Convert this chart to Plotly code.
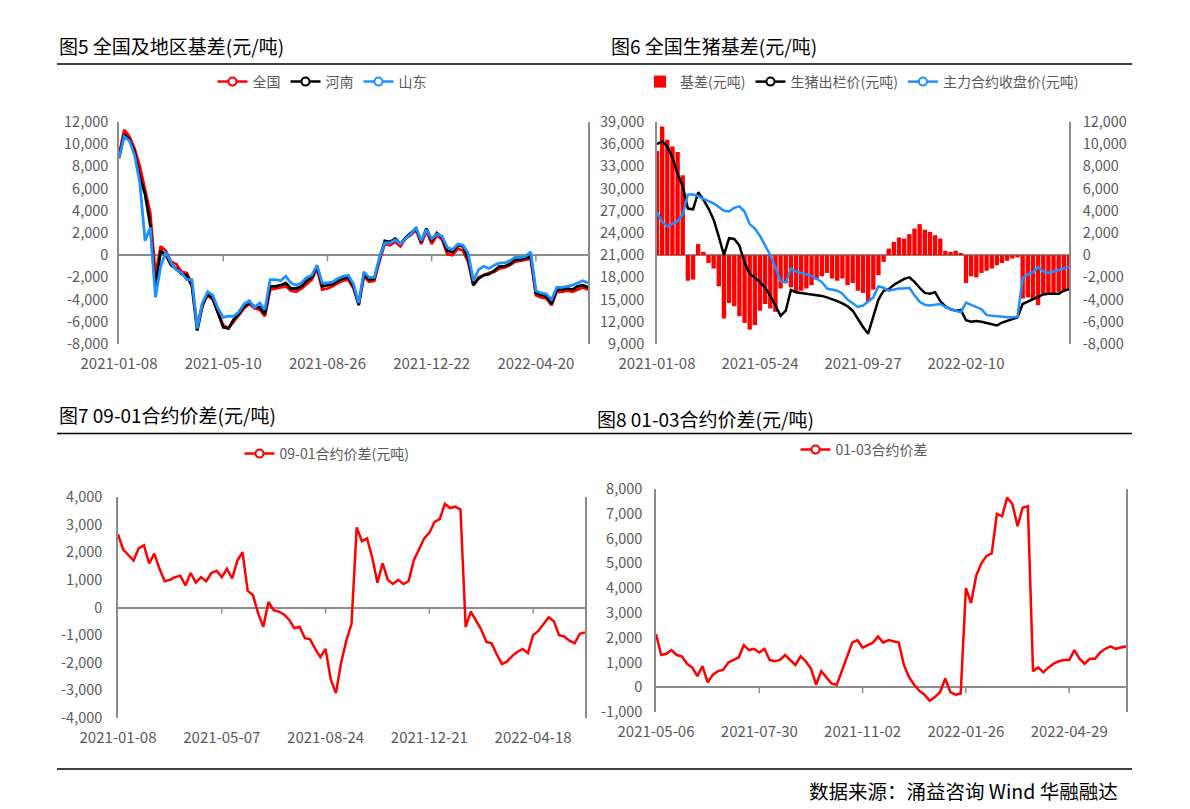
import plotly.graph_objects as go

# ---- data ----
# fig5: national / regional basis, trading-day index, labels every 20 points
p5_labels = ["2021-01-08", "2021-05-10", "2021-08-26", "2021-12-22", "2022-04-20"]
p5_national = [9000, 11300, 10700, 9600, 8000, 6000, 3800, -1800, 800, 400,
               -600, -800, -1500, -1600, -2600, -6400, -4400, -3600, -4000, -5200,
               -6300, -6600, -6000, -5400, -4800, -4400, -4800, -4900, -5500, -3100,
               -3000, -2900, -2800, -3200, -3300, -3000, -2600, -2200, -1200, -3100,
               -3000, -2800, -2500, -2300, -2200, -3000, -4400, -1900, -2400, -2300,
               -500, 1000, 900, 1200, 800, 1500, 1800, 2300, 1000, 2200,
               1000, 1800, 1400, 100, 0, 600, 400, -600, -2700, -2000,
               -1800, -1600, -1500, -1200, -1100, -900, -600, -500, -400, -300,
               -3600, -3800, -3900, -4500, -3300, -3300, -3200, -3300, -3100, -2900,
               -3100]
p5_henan = [8800, 10900, 10400, 9300, 7000, 5500, 2700, -3000, 400, 0,
            -900, -1200, -1700, -1800, -2800, -6800, -4600, -3500, -3900, -5300,
            -6500, -6600, -5800, -5300, -4600, -4300, -4600, -4700, -5300, -2800,
            -2800, -2700, -2500, -3000, -3000, -2800, -2300, -2000, -1000, -2800,
            -2700, -2600, -2300, -2100, -2000, -2800, -4500, -1700, -2200, -2100,
            -300, 1300, 1200, 1500, 1000, 1600, 2000, 2400, 1200, 2400,
            1300, 2000, 1600, 400, 300, 900, 800, -300, -2700, -2100,
            -1800, -1700, -1400, -1000, -1000, -800, -400, -400, -300, -100,
            -3400, -3600, -3700, -4400, -3100, -3100, -3000, -3100, -2800, -2700,
            -2900]
p5_shandong = [8700, 10700, 10300, 9000, 6500, 1300, 2500, -3800, -1000, 300,
               -700, -1300, -1600, -2200, -2200, -6600, -4300, -3300, -3600, -4800,
               -5600, -5500, -5500, -5100, -4400, -4100, -4700, -4300, -4900, -2200,
               -2200, -2300, -1900, -2500, -2700, -2500, -2000, -1800, -900, -2500,
               -2500, -2400, -2100, -1900, -1800, -2600, -4300, -1500, -2000, -2000,
               -200, 1100, 1100, 1400, 1000, 1500, 1900, 2500, 1300, 2300,
               1500, 1900, 1700, 700, 500, 1000, 900, 200, -2300, -1300,
               -1000, -1200, -900, -700, -700, -500, -200, -200, -100, 300,
               -3200, -3400, -3500, -4000, -2900, -2900, -2800, -2700, -2500, -2300,
               -2500]

# fig6: national hog basis (bars, right axis) and prices (lines, left axis)
p6_labels = ["2021-01-08", "2021-05-24", "2021-09-27", "2022-02-10"]
p6_basis = [9400, 11600, 10400, 9800, 9300, 7200, -2300, -2200, 1000, 300,
            -700, -1200, -2800, -5700, -4300, -4600, -5500, -6100, -6700, -6300,
            -5000, -4400, -4800, -5100, -3000, -2500, -2900, -3300, -3200, -3000,
            -2700, -2200, -1900, -1600, -2100, -2300, -2100, -2700, -2500, -3200,
            -3400, -4200, -3100, -1800, -600, 600, 1200, 1600, 1500, 1900,
            2400, 2800, 2300, 2100, 1800, 1500, 400, 300, 400, 200,
            -2500, -1900, -2000, -1600, -1400, -1200, -900, -700, -500, -300,
            -200, -3900, -3800, -4000, -4500, -3600, -3500, -3400, -3300, -3200,
            -3100]
p6_spot = [36000, 36400, 35700, 34200, 32000, 30300, 27300, 27200, 29500, 28500,
           27300, 25800, 23500, 21000, 23300, 23200, 22300, 20000, 18500, 18000,
           17400, 16600, 15500, 14200, 12800, 13500, 16300, 16000, 15900, 15800,
           15700, 15700, 15500, 15300, 15100, 14800, 14500, 14100, 13500, 12300,
           11300, 10400, 12600, 15000, 16200, 16400, 17000, 17400, 17800, 18000,
           17400, 16600, 15900, 15800, 16000, 14800, 14100, 13700, 13500, 13600,
           12200, 12000, 12100, 12000, 11800, 11600, 11500, 11900, 12100, 12300,
           12600, 14400, 14700, 15000, 15300, 15700, 15800, 15800, 15800, 16200,
           16400]
p6_futures = [26800, 25500, 24900, 25300, 25600, 26500, 29200, 29200, 29000, 28600,
              28300, 28000, 27500, 27000, 26900, 27400, 27600, 26900, 25200, 24600,
              23600, 22300, 21000, 19300, 17500, 17300, 19200, 18800, 18600, 18400,
              18200, 17800, 17400, 16500, 16300, 16200, 15800, 15000, 14500, 14000,
              14200, 14700, 15300, 16800, 16600, 16200, 16400, 16500, 16500, 16600,
              15600, 14700, 14300, 14200, 14300, 14400, 14000, 13700, 13500, 13300,
              14600, 14300, 14000, 13700, 12900, 12800, 12800, 12700, 12600, 12600,
              12700, 17900, 18400, 18700, 19400, 18800, 18600, 18800, 19000, 19200,
              19400]

# fig7: 09-01 spread
p7_labels = ["2021-01-08", "2021-05-07", "2021-08-24", "2021-12-21", "2022-04-18"]
p7_spread = [2650, 2100, 1900, 1700, 2150, 2250, 1600, 1950, 1400, 950,
             1000, 1100, 1150, 800, 1250, 900, 1100, 950, 1250, 1330,
             1100, 1400, 1050, 1700, 2000, 600, 450, -200, -700, 200,
             -100, -150, -250, -450, -750, -700, -1100, -1150, -1500, -1800,
             -1500, -2600, -3100, -2000, -1200, -600, 2900, 2400, 2500, 1800,
             900, 1600, 1000, 850, 1000, 850, 950, 1700, 2100, 2500,
             2700, 3100, 3200, 3750, 3600, 3650, 3550, -700, -150, -500,
             -800, -1250, -1300, -1700, -2050, -1950, -1750, -1600, -1500, -1650,
             -1000, -850, -600, -350, -500, -1000, -1050, -1200, -1300, -950,
             -900]

# fig8: 01-03 spread
p8_labels = ["2021-05-06", "2021-07-30", "2021-11-02", "2022-01-26", "2022-04-29"]
p8_spread = [2150, 1300, 1350, 1500, 1300, 1250, 950, 800, 450, 850,
             200, 500, 650, 700, 1000, 1100, 1200, 1700, 1500, 1550,
             1400, 1550, 1100, 1050, 1100, 1300, 1100, 900, 1250, 1050,
             750, 100, 650, 400, 150, 100, 650, 1250, 1800, 1900,
             1600, 1700, 1800, 2050, 1800, 1900, 1850, 1800, 900, 400,
             100, -150, -300, -550, -400, -200, 350, -200, -300, -250,
             4000, 3400, 4500, 5000, 5300, 5400, 7000, 6900, 7650, 7400,
             6500, 7250, 7300, 650, 800, 600, 800, 950, 1050, 1100,
             1100, 1500, 1150, 950, 1150, 1150, 1400, 1550, 1650, 1550,
             1600, 1650]

# ---- styling ----
W, H = 1190, 809
FONT = "Noto Sans CJK SC"
GRAY = "#8c8c8c"
TXT = "#595959"
RED = "#ff0000"
BLACK = "#000000"
BLUE = "#1e90ff"
TICK_STEP = 20


def fx(p):
    return p / W


def fy(p):
    return 1 - p / H


def y_axis(vmin, vmax, step, top, bottom, side="left", mirror=False, zero=True, gap=6):
    vals = list(range(vmin, vmax + 1, step))
    return dict(range=[vmin, vmax], domain=[fy(bottom), fy(top)],
                tickvals=vals, ticktext=[f"{v:,}" for v in vals],
                side=side, showline=True, linecolor=GRAY, linewidth=1.5, mirror=mirror,
                showgrid=False, zeroline=zero, zerolinecolor=GRAY, zerolinewidth=1.5,
                ticks="outside", ticklen=gap, tickcolor="rgba(0,0,0,0)", automargin=False,
                tickfont=dict(family=FONT, size=14.5, color=TXT))


def x_axis(n, labels, left, right, anchor):
    return dict(range=[0, n - 1], domain=[fx(left), fx(right)], anchor=anchor,
                tickvals=[i * TICK_STEP for i in range(len(labels))], ticktext=labels,
                showline=False, showgrid=False, zeroline=False, automargin=False,
                ticks="outside", ticklen=6, tickcolor="rgba(0,0,0,0)",
                tickfont=dict(family=FONT, size=15, color=TXT))


def legend_entry(name, color, legend, xa, ya):
    return go.Scatter(x=[None], y=[None], mode="lines+markers", name=name,
                      line=dict(color=color, width=2.5),
                      marker=dict(symbol="circle", size=8, color="white",
                                  line=dict(color=color, width=2)),
                      legend=legend, xaxis=xa, yaxis=ya, hoverinfo="skip")


def line(values, color, xa, ya, width=2.5):
    return go.Scatter(x=list(range(len(values))), y=values, mode="lines",
                      line=dict(color=color, width=width), showlegend=False,
                      xaxis=xa, yaxis=ya)


fig = go.Figure()

# fig5
for vals, col in [(p5_national, RED), (p5_henan, BLACK), (p5_shandong, BLUE)]:
    fig.add_trace(line(vals, col, "x", "y", 2.8))
for name, col in [("全国", RED), ("河南", BLACK), ("山东", BLUE)]:
    fig.add_trace(legend_entry(name, col, "legend", "x", "y"))

# fig6
fig.add_trace(go.Bar(x=list(range(len(p6_basis))), y=p6_basis, name="基差(元吨)",
                     marker=dict(color=RED, line=dict(width=0)),
                     legend="legend2", xaxis="x2", yaxis="y2"))
fig.add_trace(line(p6_spot, BLACK, "x2", "y3"))
fig.add_trace(line(p6_futures, BLUE, "x2", "y3"))
fig.add_trace(legend_entry("生猪出栏价(元吨)", BLACK, "legend2", "x2", "y3"))
fig.add_trace(legend_entry("主力合约收盘价(元吨)", BLUE, "legend2", "x2", "y3"))

# fig7
fig.add_trace(line(p7_spread, RED, "x3", "y4"))
fig.add_trace(legend_entry("09-01合约价差(元吨)", RED, "legend3", "x3", "y4"))

# fig8
fig.add_trace(line(p8_spread, RED, "x4", "y5"))
fig.add_trace(legend_entry("01-03合约价差", RED, "legend4", "x4", "y5"))


def legend_box(xc, yc):
    return dict(x=fx(xc), y=fy(yc), xanchor="center", yanchor="middle",
                orientation="h", bgcolor="rgba(0,0,0,0)", itemwidth=30,
                font=dict(family=FONT, size=14, color=TXT))


fig.update_layout(
    width=W, height=H, margin=dict(l=0, r=0, t=0, b=0, autoexpand=False),
    paper_bgcolor="white", plot_bgcolor="white",
    font=dict(family=FONT, color=TXT), bargap=0.15, showlegend=True,
    xaxis=x_axis(len(p5_national), p5_labels, 119, 588, "y"),
    yaxis=y_axis(-8000, 12000, 2000, 122, 344, mirror=True, gap=6),
    xaxis2=x_axis(len(p6_basis), p6_labels, 657, 1069, "y2"),
    yaxis2=y_axis(-8000, 12000, 2000, 122, 344, side="right", gap=9),
    yaxis3=dict(y_axis(9000, 39000, 3000, 122, 344, zero=False, gap=8),
                overlaying="y2", anchor="x2"),
    xaxis3=x_axis(len(p7_spread), p7_labels, 118, 585, "y4"),
    yaxis4=y_axis(-4000, 4000, 1000, 497, 718, mirror=True, gap=11),
    xaxis4=x_axis(len(p8_spread), p8_labels, 656, 1126, "y5"),
    yaxis5=y_axis(-1000, 8000, 1000, 489, 712, mirror=True, gap=9),
    legend=legend_box(322, 82),
    legend2=legend_box(862, 82),
    legend3=legend_box(327, 454),
    legend4=legend_box(864, 450),
)
fig.update_layout(yaxis2_anchor="x2", yaxis4_anchor="x3", yaxis5_anchor="x4")

# small tick marks hanging from the zero line
for xa, ya, n, (lo, hi), hpx in [("x", "y", len(p5_national), (-8000, 12000), 222),
                                 ("x3", "y4", len(p7_spread), (-4000, 4000), 221),
                                 ("x4", "y5", len(p8_spread), (-1000, 8000), 223)]:
    tl = (hi - lo) / hpx * 6
    for t in range(TICK_STEP, n, TICK_STEP):
        fig.add_shape(type="line", xref=xa, yref=ya, x0=t, x1=t, y0=0, y1=-tl,
                      line=dict(color=GRAY, width=1.5))

# titles, rules and source
titles = [("图5 全国及地区基差(元/吨)", 57, 45), ("图6 全国生猪基差(元/吨)", 609, 45),
          ("图7 09-01合约价差(元/吨)", 57, 414), ("图8 01-03合约价差(元/吨)", 595, 418)]
for text, x, y in titles:
    fig.add_annotation(text=text, x=fx(x), y=fy(y), xref="paper", yref="paper",
                       xanchor="left", yanchor="middle", showarrow=False,
                       font=dict(family=FONT, size=19, color="black"))
for y in [64, 433.5, 769]:
    fig.add_shape(type="line", xref="paper", yref="paper", x0=fx(57), x1=fx(1132),
                  y0=fy(y), y1=fy(y), line=dict(color="black", width=1.5))
fig.add_annotation(text="数据来源：涌益咨询 Wind 华融融达", x=fx(1120), y=fy(790),
                   xref="paper", yref="paper", xanchor="right", yanchor="middle",
                   showarrow=False, font=dict(family=FONT, size=19.5, color="black"))

# drop the browser's default page margin so the figure sits at the window origin
fig.write_html("out.html", config={"displayModeBar": False},
               post_script="document.body.style.margin='0';")
